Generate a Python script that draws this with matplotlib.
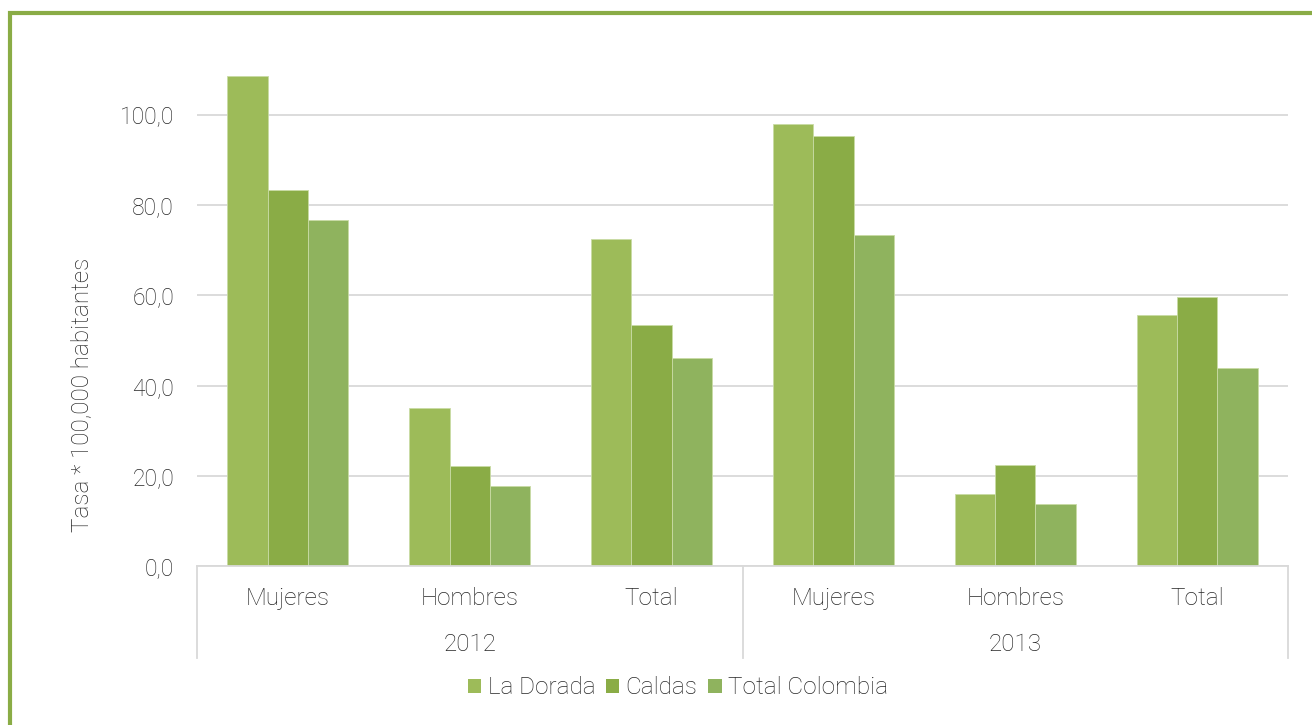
import numpy as np
import matplotlib
matplotlib.use("Agg")
import matplotlib.pyplot as plt
import matplotlib.transforms as mtransforms
from matplotlib.patches import Rectangle, Patch

plt.rcParams['font.family'] = ['Roboto', 'DejaVu Sans']
plt.rcParams['font.weight'] = 'light'

# data
categories = ["Mujeres", "Hombres", "Total", "Mujeres", "Hombres", "Total"]
years = ["2012", "2013"]
series = ["La Dorada", "Caldas", "Total Colombia"]
la_dorada = [108.6, 35.0, 72.5, 98.0, 16.0, 55.7]
caldas = [83.4, 22.2, 53.4, 95.3, 22.4, 59.6]
total_colombia = [76.7, 17.7, 46.1, 73.4, 13.7, 43.9]
yticks = [0, 20, 40, 60, 80, 100]

colors = ['#9DBB59', '#8AAC46', '#8FB35E']
text_color = '#262626'
grid_color = '#D9D9D9'

fig = plt.figure(figsize=(13.12, 7.25), dpi=100)
ax = fig.add_axes([0.15015, 0.21931, 0.83156, 0.69655])

x = np.arange(len(categories))
w = 0.222
for i, (vals, c) in enumerate(zip([la_dorada, caldas, total_colombia], colors)):
    ax.bar(x + (i - 1) * w, vals, width=w, color=c, edgecolor='#C9DBA5',
           linewidth=0.6, zorder=3)

ax.set_xlim(-0.5, len(categories) - 0.5)
ax.set_ylim(0, 112)
ax.set_yticks(yticks)
ax.set_yticklabels([f"{v:.1f}".replace('.', ',') for v in yticks])
ax.tick_params(axis='y', length=0, pad=16.5, labelsize=16.5, labelcolor=text_color)
ax.set_xticks([])
ax.grid(axis='y', color=grid_color, linewidth=1.3, zorder=0)
for s in ['top', 'right', 'left']:
    ax.spines[s].set_visible(False)
ax.spines['bottom'].set_color(grid_color)
ax.spines['bottom'].set_linewidth(1.3)
ax.spines['bottom'].set_zorder(4)

# two-level category axis
trans = mtransforms.blended_transform_factory(ax.transData, ax.transAxes)
for xs in [-0.5, 2.5, 5.5]:
    ax.plot([xs, xs], [0, -0.182], transform=trans, color=grid_color,
            linewidth=1.3, clip_on=False)
for xi, lab in zip(x, categories):
    ax.text(xi, -0.064, lab, transform=trans, ha='center', va='center',
            fontsize=17.5, color=text_color)
for j, yr in enumerate(years):
    ax.text(1 + 3 * j, -0.155, yr, transform=trans, ha='center', va='center',
            fontsize=17.5, color=text_color)

fig.text(82 / 1312, 1 - 395 / 725, "Tasa * 100,000 habitantes", rotation=90,
         ha='center', va='center', fontsize=17.5, color=text_color)

handles = [Patch(facecolor=c, edgecolor='none') for c in colors]
fig.legend(handles, series, loc='center', bbox_to_anchor=(678 / 1312, 1 - 688 / 725),
           ncol=3, frameon=False, fontsize=17.5, handlelength=0.55, handleheight=0.55,
           handletextpad=0.25, columnspacing=0.45, labelcolor=text_color)

# green outer frame
fig.patches.append(Rectangle((9.5 / 1312, -0.05), 1.1, 1 - 12.5 / 725 + 0.05,
                             transform=fig.transFigure, fill=False,
                             edgecolor='#8AAC46', linewidth=3))

fig.savefig("out.png", dpi=100)
